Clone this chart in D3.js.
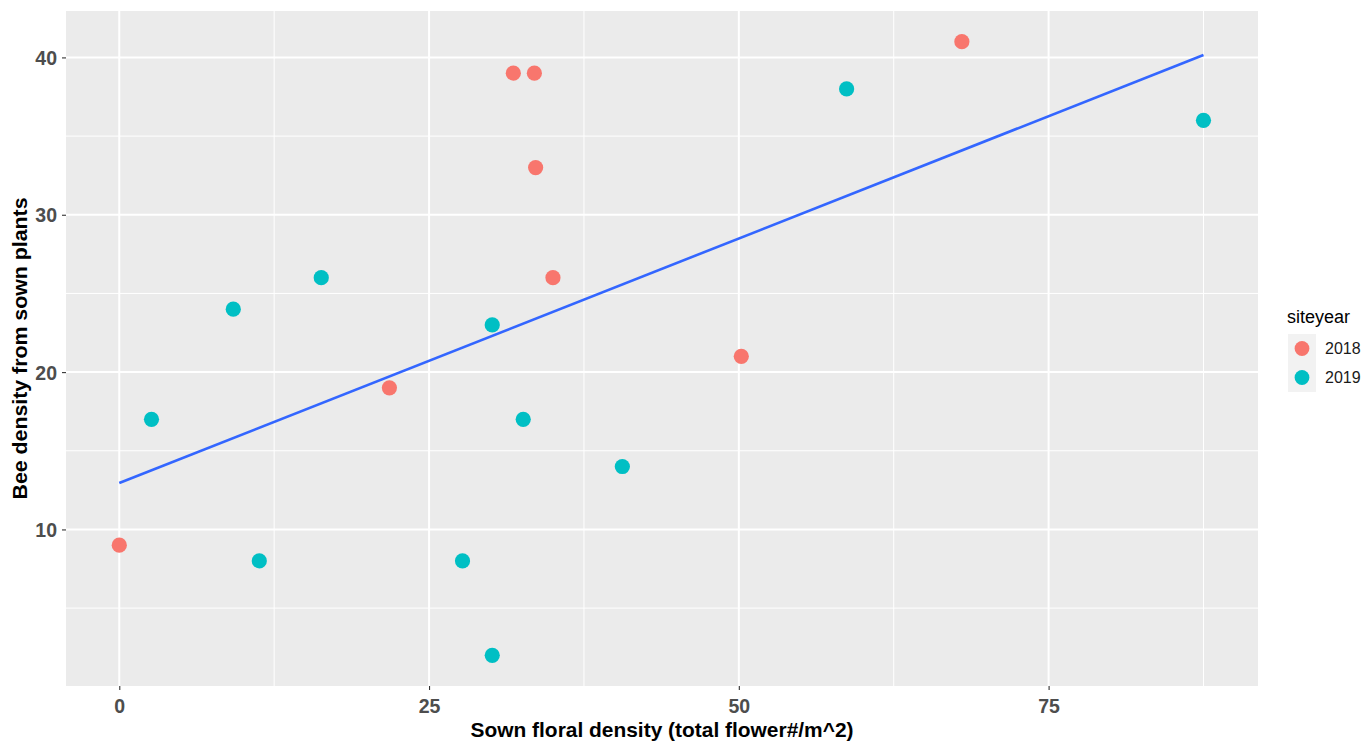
<!DOCTYPE html>
<html>
<head>
<meta charset="utf-8">
<script src="https://cdn.jsdelivr.net/npm/d3@7"></script>
<style>
  html, body { margin: 0; padding: 0; background: #ffffff; }
  svg { display: block; font-family: "Liberation Sans", Arial, sans-serif; }
</style>
</head>
<body>
<svg id="chart" width="1364" height="744"></svg>
<script>
// ---- data ----
const x2018 = [0, 21.8, 31.8, 33.5, 33.6, 35.0, 50.2, 68.0];
const y2018 = [9, 19, 39, 39, 33, 26, 21, 41];
const x2019 = [2.6, 9.2, 11.3, 16.3, 27.7, 30.1, 30.1, 32.6, 40.6, 58.7, 87.5];
const y2019 = [17, 24, 8, 26, 8, 23, 2, 17, 14, 38, 36];
const fitX = [0, 87.5];
const fitY = [12.95, 40.15];
const xTicks = [0, 25, 50, 75];
const xMinor = [12.5, 37.5, 62.5, 87.5];
const yTicks = [10, 20, 30, 40];
const yMinor = [5, 15, 25, 35];
const groups = ["2018", "2019"];
const groupColors = ["#F8766D", "#00BFC4"];
const xTitle = "Sown floral density (total flower#/m^2)";
const yTitle = "Bee density from sown plants";
const legendTitle = "siteyear";

// ---- layout ----
const panel = { left: 66, right: 1258, top: 11, bottom: 686 };
const svg = d3.select("#chart");

const x = d3.scaleLinear().domain([-4.3, 91.9]).range([panel.left, panel.right]);
const y = d3.scaleLinear().domain([0.05, 42.95]).range([panel.bottom, panel.top]);
const color = d3.scaleOrdinal().domain(groups).range(groupColors);

// panel background
svg.append("rect")
  .attr("x", panel.left).attr("y", panel.top)
  .attr("width", panel.right - panel.left).attr("height", panel.bottom - panel.top)
  .attr("fill", "#EBEBEB");

const grid = svg.append("g");
// minor gridlines
grid.selectAll("line.xminor").data(xMinor).enter().append("line")
  .attr("x1", d => x(d)).attr("x2", d => x(d))
  .attr("y1", panel.top).attr("y2", panel.bottom)
  .attr("stroke", "#ffffff").attr("stroke-width", 1);
grid.selectAll("line.yminor").data(yMinor).enter().append("line")
  .attr("y1", d => y(d)).attr("y2", d => y(d))
  .attr("x1", panel.left).attr("x2", panel.right)
  .attr("stroke", "#ffffff").attr("stroke-width", 1);
// major gridlines
grid.selectAll("line.xmajor").data(xTicks).enter().append("line")
  .attr("x1", d => x(d)).attr("x2", d => x(d))
  .attr("y1", panel.top).attr("y2", panel.bottom)
  .attr("stroke", "#ffffff").attr("stroke-width", 2);
grid.selectAll("line.ymajor").data(yTicks).enter().append("line")
  .attr("y1", d => y(d)).attr("y2", d => y(d))
  .attr("x1", panel.left).attr("x2", panel.right)
  .attr("stroke", "#ffffff").attr("stroke-width", 2);

// axes
const xAxis = d3.axisBottom(x).tickValues(xTicks).tickSize(4).tickPadding(6).tickFormat(d3.format("d"));
const yAxis = d3.axisLeft(y).tickValues(yTicks).tickSize(4).tickPadding(4).tickFormat(d3.format("d"));

const gx = svg.append("g").attr("transform", `translate(0,${panel.bottom})`).call(xAxis);
const gy = svg.append("g").attr("transform", `translate(${panel.left},0)`).call(yAxis);
[gx, gy].forEach(g => {
  g.select(".domain").remove();
  g.selectAll(".tick line").attr("stroke", "#333333").attr("stroke-width", 1.1);
  g.selectAll(".tick text")
    .attr("fill", "#4D4D4D")
    .style("font-size", "19.5px")
    .style("font-weight", "bold")
    .style("font-family", "'Liberation Sans', Arial, sans-serif");
});
gx.selectAll(".tick text").attr("dy", null).attr("y", 27);
gy.selectAll(".tick text").attr("dy", "0.36em").attr("x", -9);

// points
const pts = [];
x2018.forEach((v, i) => pts.push({ x: v, y: y2018[i], g: "2018" }));
x2019.forEach((v, i) => pts.push({ x: v, y: y2019[i], g: "2019" }));
svg.append("g").selectAll("circle").data(pts).enter().append("circle")
  .attr("cx", d => x(d.x)).attr("cy", d => y(d.y)).attr("r", 7.6)
  .attr("fill", d => color(d.g));

// fitted line
const fit = fitX.map((v, i) => [v, fitY[i]]);
svg.append("path").datum(fit)
  .attr("d", d3.line().x(d => x(d[0])).y(d => y(d[1])))
  .attr("fill", "none").attr("stroke", "#3366FF").attr("stroke-width", 2.6);

// axis titles
const cx = (panel.left + panel.right) / 2;
const cy = (panel.top + panel.bottom) / 2;
svg.append("text")
  .attr("x", cx).attr("y", 737)
  .attr("text-anchor", "middle")
  .attr("textLength", 383).attr("lengthAdjust", "spacingAndGlyphs")
  .style("font-size", "21px").style("font-weight", "bold").attr("fill", "#000000")
  .text(xTitle);
svg.append("text")
  .attr("transform", `translate(27,${cy}) rotate(-90)`)
  .attr("text-anchor", "middle")
  .attr("textLength", 302).attr("lengthAdjust", "spacingAndGlyphs")
  .style("font-size", "21px").style("font-weight", "bold").attr("fill", "#000000")
  .text(yTitle);

// legend
const lg = svg.append("g");
lg.append("text").attr("x", 1287).attr("y", 323)
  .style("font-size", "18px").attr("fill", "#000000").text(legendTitle);
const keyH = 29;
const keys = lg.selectAll("g.key").data(groups).enter().append("g")
  .attr("transform", (d, i) => `translate(1288,${334 + i * keyH})`);
keys.append("rect").attr("width", 28).attr("height", keyH)
  .attr("fill", "#F2F2F2");
keys.append("circle").attr("cx", 14).attr("cy", keyH / 2).attr("r", 7.4)
  .attr("fill", d => color(d));
keys.append("text").attr("x", 37).attr("y", keyH / 2).attr("dy", "0.36em")
  .style("font-size", "16px").attr("fill", "#1A1A1A").text(d => d);
</script>
</body>
</html>
